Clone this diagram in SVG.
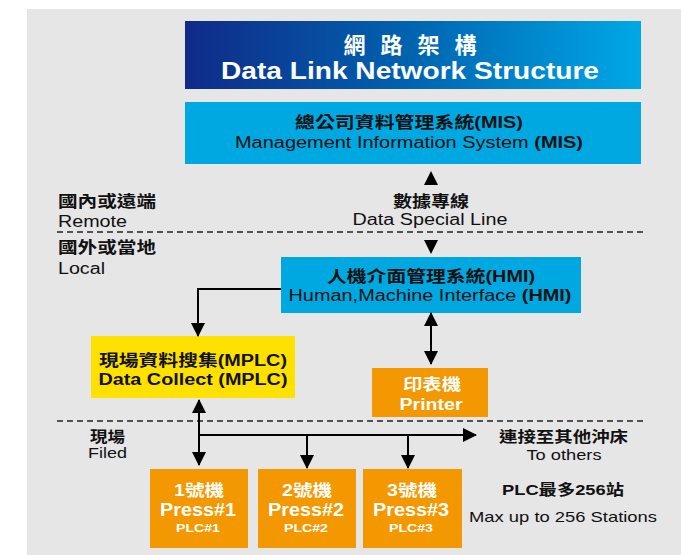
<svg xmlns="http://www.w3.org/2000/svg" width="681" height="555" viewBox="0 0 681 555">
<defs>
<linearGradient id="tg" x1="0" y1="0" x2="1" y2="0">
<stop offset="0" stop-color="#102a88"/>
<stop offset="0.5" stop-color="#0064b0"/>
<stop offset="1" stop-color="#00a8e6"/>
</linearGradient>
<marker id="ah" viewBox="0 0 14 14" refX="13" refY="7" markerWidth="14" markerHeight="14" markerUnits="userSpaceOnUse" orient="auto-start-reverse">
<path d="M0,0 L14,7 L0,14 Z" fill="#000"/>
</marker>
<style>
text{font-family:"Liberation Sans","Noto Sans CJK TC",Arial,sans-serif;fill:#111;}
.b{font-weight:bold;}
.w{fill:#fff;}
.c{text-anchor:middle;}
.ln{stroke:#000;stroke-width:2;fill:none;}
.dash{stroke:#222;stroke-width:1.5;stroke-dasharray:6 4;fill:none;}
.blue{fill:#00a8e1;}
.org{fill:#f39800;}
</style>
</defs>
<rect x="0" y="0" width="681" height="555" fill="#fff"/>
<rect x="27" y="9" width="654" height="546" fill="#e6e6e6"/>

<g id="title">
<rect x="185" y="21" width="456" height="68" fill="url(#tg)"/>
<text class="b w c" x="410" y="53" font-size="22" textLength="133" lengthAdjust="spacing">網路架構</text>
<text class="b w c" x="410" y="79" font-size="23" textLength="378" lengthAdjust="spacingAndGlyphs">Data Link Network Structure</text>
</g>

<g id="mis">
<rect class="blue" x="185" y="102" width="456" height="62"/>
<text class="b c" x="409" y="128" font-size="16" textLength="228" lengthAdjust="spacingAndGlyphs">總公司資料管理系統(MIS)</text>
<text class="c" x="409" y="148" font-size="16" textLength="348" lengthAdjust="spacingAndGlyphs">Management Information System <tspan class="b">(MIS)</tspan></text>
</g>

<g id="dataline">
<text class="b c" x="431" y="207" font-size="16" textLength="76" lengthAdjust="spacingAndGlyphs">數據專線</text>
<text class="c" x="430" y="225" font-size="16" textLength="155" lengthAdjust="spacingAndGlyphs">Data Special Line</text>
</g>

<g id="zones">
<text class="b" x="58" y="207" font-size="16" textLength="98" lengthAdjust="spacingAndGlyphs">國內或遠端</text>
<text x="58" y="227" font-size="16" textLength="69" lengthAdjust="spacingAndGlyphs">Remote</text>
<text class="b" x="58" y="253" font-size="16" textLength="98" lengthAdjust="spacingAndGlyphs">國外或當地</text>
<text x="58" y="274" font-size="16" textLength="47" lengthAdjust="spacingAndGlyphs">Local</text>
<text class="b" x="90" y="442" font-size="15" textLength="35" lengthAdjust="spacingAndGlyphs">現場</text>
<text x="88" y="458" font-size="15" textLength="39" lengthAdjust="spacingAndGlyphs">Filed</text>
</g>

<g id="hmi">
<rect class="blue" x="281" y="257" width="300" height="56"/>
<text class="b c" x="431" y="282" font-size="16" textLength="208" lengthAdjust="spacingAndGlyphs">人機介面管理系統(HMI)</text>
<text class="c" x="430" y="301" font-size="16" textLength="283" lengthAdjust="spacingAndGlyphs">Human,Machine Interface <tspan class="b">(HMI)</tspan></text>
</g>

<g id="mplc">
<rect x="91" y="336" width="204" height="62" fill="#ffe100"/>
<text class="b c" x="193" y="366" font-size="16" textLength="188" lengthAdjust="spacingAndGlyphs">現場資料搜集(MPLC)</text>
<text class="b c" x="193" y="385" font-size="16" textLength="189" lengthAdjust="spacingAndGlyphs">Data Collect (MPLC)</text>
</g>

<g id="printer">
<rect class="org" x="372" y="368" width="116" height="49"/>
<text class="b w c" x="432" y="390" font-size="16" textLength="58" lengthAdjust="spacingAndGlyphs">印表機</text>
<text class="b w c" x="431" y="410" font-size="16" textLength="63" lengthAdjust="spacingAndGlyphs">Printer</text>
</g>

<g id="press1">
<rect class="org" x="150" y="469" width="98" height="79"/>
<text class="b w c" x="199" y="496" font-size="16" textLength="50" lengthAdjust="spacingAndGlyphs">1號機</text>
<text class="b w c" x="198" y="516" font-size="19" textLength="76" lengthAdjust="spacingAndGlyphs">Press#1</text>
<text class="b w c" x="198" y="532" font-size="11" textLength="44" lengthAdjust="spacingAndGlyphs">PLC#1</text>
</g>
<g id="press2">
<rect class="org" x="258" y="469" width="98" height="79"/>
<text class="b w c" x="307" y="496" font-size="16" textLength="50" lengthAdjust="spacingAndGlyphs">2號機</text>
<text class="b w c" x="306" y="516" font-size="19" textLength="76" lengthAdjust="spacingAndGlyphs">Press#2</text>
<text class="b w c" x="306" y="532" font-size="11" textLength="44" lengthAdjust="spacingAndGlyphs">PLC#2</text>
</g>
<g id="press3">
<rect class="org" x="363" y="469" width="99" height="79"/>
<text class="b w c" x="412" y="496" font-size="16" textLength="50" lengthAdjust="spacingAndGlyphs">3號機</text>
<text class="b w c" x="411" y="516" font-size="19" textLength="76" lengthAdjust="spacingAndGlyphs">Press#3</text>
<text class="b w c" x="411" y="532" font-size="11" textLength="44" lengthAdjust="spacingAndGlyphs">PLC#3</text>
</g>

<g id="others">
<text class="b" x="499" y="442" font-size="15" textLength="129" lengthAdjust="spacingAndGlyphs">連接至其他沖床</text>
<text class="c" x="564" y="460" font-size="15" textLength="75" lengthAdjust="spacingAndGlyphs">To others</text>
<text class="b c" x="563" y="495" font-size="15" textLength="122" lengthAdjust="spacingAndGlyphs">PLC最多256站</text>
<text class="c" x="563" y="522" font-size="15" textLength="188" lengthAdjust="spacingAndGlyphs">Max up to 256 Stations</text>
</g>

<g id="connectors">
<line class="dash" x1="57" y1="232" x2="645" y2="232"/>
<line class="dash" x1="57" y1="421" x2="645" y2="421"/>
<polygon points="431,171 438,185 424,185" fill="#000"/>
<polygon points="424,240 438,240 431,254" fill="#000"/>
<path class="ln" d="M281,289 H198 V336" marker-end="url(#ah)"/>
<line class="ln" x1="431" y1="313" x2="431" y2="364" marker-start="url(#ah)" marker-end="url(#ah)"/>
<line class="ln" x1="199" y1="400" x2="199" y2="465" marker-start="url(#ah)" marker-end="url(#ah)"/>
<line class="ln" x1="199" y1="435" x2="476" y2="435" marker-end="url(#ah)"/>
<line class="ln" x1="307" y1="435" x2="307" y2="468" marker-end="url(#ah)"/>
<line class="ln" x1="408" y1="435" x2="408" y2="468" marker-end="url(#ah)"/>
</g>
</svg>
